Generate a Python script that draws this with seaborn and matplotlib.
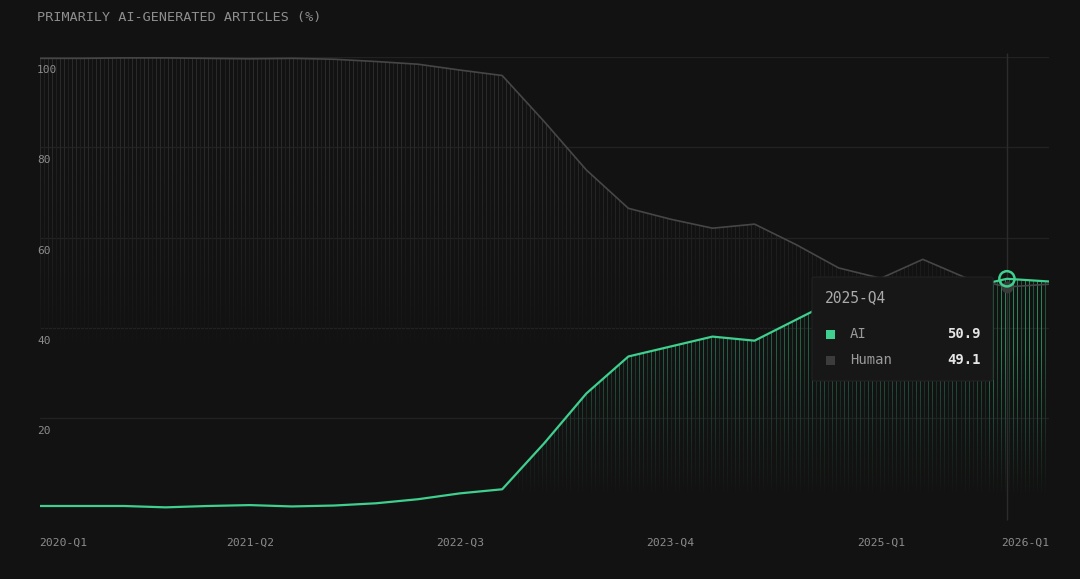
import numpy as np
import pandas as pd
import matplotlib
matplotlib.use("Agg")
import matplotlib.pyplot as plt
import seaborn as sns
from matplotlib.transforms import ScaledTranslation
from matplotlib.patches import FancyBboxPatch, Rectangle
from matplotlib.collections import LineCollection
from matplotlib.colors import to_rgb

# ---------------- data ----------------
quarters = [
    "2020-Q1", "2020-Q2", "2020-Q3", "2020-Q4",
    "2021-Q1", "2021-Q2", "2021-Q3", "2021-Q4",
    "2022-Q1", "2022-Q2", "2022-Q3", "2022-Q4",
    "2023-Q1", "2023-Q2", "2023-Q3", "2023-Q4",
    "2024-Q1", "2024-Q2", "2024-Q3", "2024-Q4",
    "2025-Q1", "2025-Q2", "2025-Q3", "2025-Q4",
    "2026-Q1",
]
ai_share = [0.6, 0.6, 0.6, 0.3, 0.6, 0.8, 0.5, 0.7, 1.2, 2.1, 3.4, 4.3,
            14.5, 25.5, 33.7, 35.9, 38.1, 37.2, 41.9, 46.6, 49.0, 44.8,
            48.8, 50.9, 50.3]
human_share = [99.7, 99.7, 99.8, 99.8, 99.7, 99.6, 99.7, 99.5, 99.0, 98.4,
               97.1, 95.9, 85.7, 75.0, 66.5, 64.1, 62.1, 63.0, 58.4, 53.3,
               51.0, 55.2, 51.2, 49.1, 49.7]
tick_quarters = ["2020-Q1", "2021-Q2", "2022-Q3", "2023-Q4", "2025-Q1", "2026-Q1"]
y_ticks = [20, 40, 60, 80, 100]
hover_quarter = "2025-Q4"
title = "PRIMARILY AI-GENERATED ARTICLES (%)"

# ---------------- style ----------------
BG = "#121212"
GREEN = "#3fcf8e"
GRAY_LINE = "#464646"
TXT = "#8c8c8c"
MONO = ["DejaVu Sans Mono", "Liberation Mono", "DejaVu Sans"]

sns.set_theme(style="dark", rc={
    "figure.facecolor": BG, "axes.facecolor": BG, "savefig.facecolor": BG,
})
plt.rcParams["font.family"] = MONO

fig = plt.figure(figsize=(10.8, 5.79), dpi=100)
ax = fig.add_axes([39.5 / 1080, 70.3 / 579, 1009.5 / 1080, 451.7 / 579])
ax.set_facecolor(BG)
ax.set_axisbelow(False)

pos = np.arange(len(quarters))
df = pd.DataFrame({
    "pos": np.concatenate([pos, pos]),
    "value": ai_share + human_share,
    "series": ["AI"] * len(pos) + ["Human"] * len(pos),
})

xmax = len(quarters) - 1
ax.set_xlim(0, xmax)
ax.set_ylim(0, 100)
hi = quarters.index(hover_quarter)

# ---------------- striped gradient fills ----------------
n_stripes = 252
stripe_x = np.linspace(0, xmax, n_stripes)
stripe_w = np.where(np.arange(n_stripes) % 3 == 1, 0.6, 1.0)
edges = np.linspace(0, 100, 101)
base = np.array(to_rgb(BG))


def striped_fill(yvals, rgb, alpha_v, boost_from=None, boost=1.0, z=1):
    poly = ax.fill_between(pos, 0, yvals, color="none", lw=0)
    c = np.array(to_rgb(rgb))
    segs, cols = [], []
    for x, w in zip(stripe_x, stripe_w):
        b = boost if (boost_from is not None and x >= boost_from) else 1.0
        for lo, up in zip(edges[:-1], edges[1:]):
            a = alpha_v((lo + up) / 2) * w * b
            if a <= 0.01:
                continue
            segs.append([(x, lo), (x, up)])
            cols.append(np.clip(base + (c - base) * min(a, 1.0), 0, 1))
    lc = LineCollection(segs, colors=cols, linewidths=0.72, antialiaseds=False,
                        zorder=z)
    ax.add_collection(lc)
    lc.set_clip_path(poly.get_paths()[0], transform=ax.transData)


striped_fill(human_share, "#666666",
             lambda v: 0.28 * np.clip((v - 36) / 45, 0, 1) ** 0.9, z=1)
striped_fill(ai_share, GREEN,
             lambda v: 0.40 * np.clip((v - 3) / 32, 0, 1) ** 1.1,
             boost_from=hi - 0.5, boost=1.45, z=1.5)

# ---------------- lines ----------------
sns.lineplot(data=df[df.series == "Human"], x="pos", y="value", color=GRAY_LINE,
             linewidth=1.2, ax=ax, legend=False, zorder=3)
sns.lineplot(data=df[df.series == "AI"], x="pos", y="value", color=GREEN,
             linewidth=1.6, ax=ax, legend=False, zorder=4)

# crosshair + hover markers
ax.vlines(hi, -2.5, 100.9, color="#2c2c2c", lw=1.0, zorder=2, clip_on=False)
ax.scatter([hi], [human_share[hi]], s=55, color="#3a3a3a", zorder=5, clip_on=False)
ax.scatter([hi], [ai_share[hi]], s=120, facecolor="none", edgecolor=GREEN,
           linewidth=1.8, zorder=6, clip_on=False)

# ---------------- axes cosmetics ----------------
for s in ax.spines.values():
    s.set_visible(False)
ax.grid(False)
for yv in y_ticks:
    ax.axhline(yv, color="#222222", lw=0.9, zorder=0.5)

ax.set_yticks(y_ticks)
ax.set_yticklabels([str(v) for v in y_ticks])
ax.tick_params(axis="y", length=0, pad=1.8, labelsize=8, labelcolor=TXT)
off = ScaledTranslation(0, -12 / 100, fig.dpi_scale_trans)
for lab in ax.get_yticklabels():
    lab.set_horizontalalignment("left")
    lab.set_transform(lab.get_transform() + off)

ax.set_xticks([quarters.index(q) for q in tick_quarters])
ax.set_xticklabels(tick_quarters)
ax.tick_params(axis="x", length=0, pad=21, labelsize=8.2, labelcolor=TXT)
xl = ax.get_xticklabels()
xl[0].set_horizontalalignment("left")
xl[-1].set_horizontalalignment("right")
ax.set_xlabel("")
ax.set_ylabel("")

# title
fig.text(37 / 1080, 1 - 18 / 579, title, fontsize=9.7, color="#8e8e8e",
         va="center", ha="left")

# ---------------- tooltip ----------------
box = FancyBboxPatch((812 / 1080, (579 - 381) / 579), 181 / 1080, 104 / 579,
                     boxstyle="round,pad=0,rounding_size=0.003",
                     transform=fig.transFigure, facecolor="#171717",
                     edgecolor="#222222", lw=0.8, zorder=10)
fig.patches.append(box)
fig.text(825 / 1080, (579 - 298) / 579, hover_quarter, fontsize=10.5,
         color="#ababab", va="center", ha="left", zorder=11)
rows = [("AI", ai_share[hi], GREEN, 334), ("Human", human_share[hi], "#3c3c3c", 360)]
for name, val, c, ypix in rows:
    fig.patches.append(Rectangle((825.5 / 1080, (579 - ypix - 4.5) / 579), 9 / 1080, 9 / 579,
                                 transform=fig.transFigure, facecolor=c,
                                 edgecolor="none", zorder=11))
    fig.text(850 / 1080, (579 - ypix) / 579, name, fontsize=10, color="#9a9a9a",
             va="center", ha="left", zorder=11)
    fig.text(981 / 1080, (579 - ypix) / 579, f"{val:.1f}", fontsize=10,
             color="#e6e6e6", fontweight="bold", va="center", ha="right", zorder=11)

fig.savefig("out.png", dpi=100, facecolor=BG)
